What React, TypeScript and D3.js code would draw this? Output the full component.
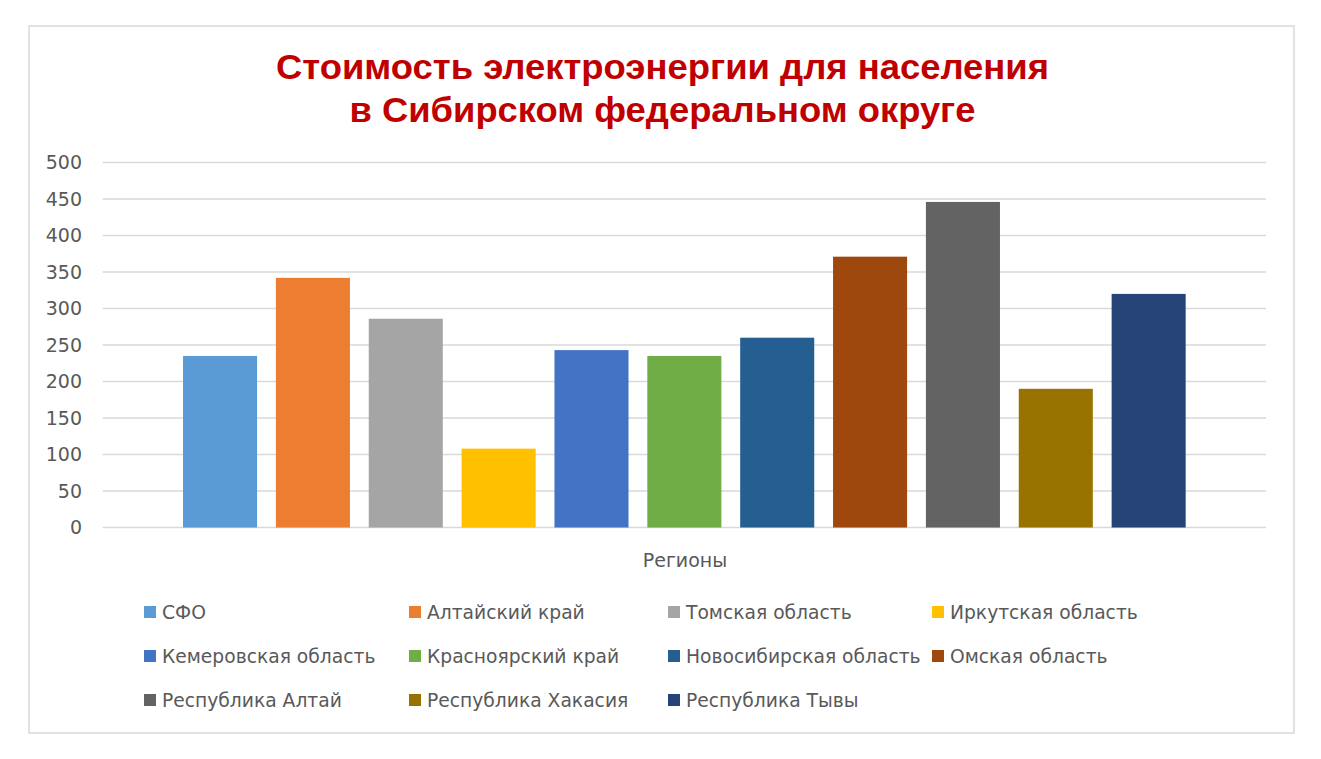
import React from "react";
import * as d3 from "d3";

const regions = [
  "СФО",
  "Алтайский край",
  "Томская область",
  "Иркутская область",
  "Кемеровская область",
  "Красноярский край",
  "Новосибирская область",
  "Омская область",
  "Республика Алтай",
  "Республика Хакасия",
  "Республика Тывы",
];
const values = [235, 342, 286, 108, 243, 235, 260, 371, 446, 190, 320];
const colors = [
  "#5B9BD5",
  "#ED7D31",
  "#A5A5A5",
  "#FFC000",
  "#4472C4",
  "#70AD47",
  "#255E91",
  "#9E480E",
  "#636363",
  "#997300",
  "#264478",
];
const yTicks = [0, 50, 100, 150, 200, 250, 300, 350, 400, 450, 500];
const titleLines = ["Стоимость электроэнергии для населения", "в Сибирском федеральном округе"];
const axisTitle = "Регионы";

const W = 1321;
const H = 759;
const plotLeft = 102.7;
const plotRight = 1266;
const plotTop = 162.5;
const plotBottom = 527.5;
const font = "'DejaVu Sans', 'Noto Sans', sans-serif";
const textColor = "#595959";

export default function App() {
  const y = d3.scaleLinear().domain([0, 500]).range([plotBottom, plotTop]);
  const x = d3
    .scaleBand<string>()
    .domain(regions)
    .range([plotLeft, plotRight])
    .paddingInner(0.2026)
    .paddingOuter(0.865);

  const legendCols = [144, 409, 668, 932];
  const legendRows = [612, 656, 700];
  const titleWidths = [773, 626];
  const titleBaselines = [79, 122];

  return (
    <svg
      width={W}
      height={H}
      style={{ position: "absolute", left: 0, top: 0, background: "#fff" }}
    >
      <rect x={0} y={0} width={W} height={H} fill="#fff" />
      <rect x={29} y={26} width={1265} height={707} fill="#fff" stroke="#d9d9d9" strokeWidth={1.5} />
      {titleLines.map((t, i) => (
        <text
          key={i}
          x={662.5 - titleWidths[i] / 2}
          y={titleBaselines[i]}
          textLength={titleWidths[i]}
          lengthAdjust="spacingAndGlyphs"
          fontFamily="'Liberation Sans', Arial, sans-serif"
          fontWeight="bold"
          fontSize={35}
          fill="#C00000"
        >
          {t}
        </text>
      ))}
      {yTicks.map((t) => (
        <g key={t}>
          <line
            x1={plotLeft}
            x2={plotRight}
            y1={y(t)}
            y2={y(t)}
            stroke="#d9d9d9"
            strokeWidth={1.3}
          />
          <text
            x={82}
            y={y(t)}
            dy="0.36em"
            textAnchor="end"
            fontFamily={font}
            fontSize={19}
            fill={textColor}
          >
            {t}
          </text>
        </g>
      ))}
      {regions.map((r, i) => (
        <rect
          key={r}
          x={x(r)}
          width={x.bandwidth()}
          y={y(values[i])}
          height={y(0) - y(values[i])}
          fill={colors[i]}
        />
      ))}
      <text
        x={685}
        y={567}
        textAnchor="middle"
        fontFamily={font}
        fontSize={19}
        fill={textColor}
      >
        {axisTitle}
      </text>
      {regions.map((r, i) => {
        const cx = legendCols[i % 4];
        const cy = legendRows[Math.floor(i / 4)];
        return (
          <g key={r}>
            <rect x={cx} y={cy - 6} width={12} height={12} fill={colors[i]} />
            <text
              x={cx + 18}
              y={cy}
              dy="0.36em"
              fontFamily={font}
              fontSize={18.7}
              fill={textColor}
            >
              {r}
            </text>
          </g>
        );
      })}
    </svg>
  );
}
